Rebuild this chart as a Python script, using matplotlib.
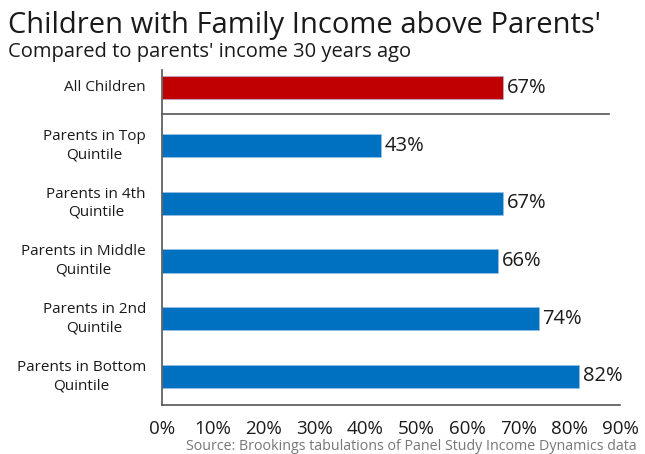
import matplotlib.pyplot as plt

labels = ["All Children", "Parents in Top\nQuintile", "Parents in 4th\nQuintile",
          "Parents in Middle\nQuintile", "Parents in 2nd\nQuintile", "Parents in Bottom\nQuintile"]
values = [0.67, 0.43, 0.67, 0.66, 0.74, 0.82]
value_labels = ["67%", "43%", "67%", "66%", "74%", "82%"]
ticks = [0.0, 0.1, 0.2, 0.3, 0.4, 0.5, 0.6, 0.7, 0.8, 0.9]
tick_labels = ["0%", "10%", "20%", "30%", "40%", "50%", "60%", "70%", "80%", "90%"]

RED = "#C00000"
BLUE = "#0070C0"
TEXT = "#1a1a1a"

plt.rcParams['font.family'] = ['Open Sans', 'DejaVu Sans']

fig = plt.figure(figsize=(6.45, 4.54), dpi=100)
W, H = 645, 454
ax = fig.add_axes([162 / W, 1 - 405 / H, (620 - 162) / W, (405 - 70) / H])

pos = list(range(len(values)))
colors = [RED] + [BLUE] * (len(values) - 1)
ax.barh(pos, values, height=0.4, color=colors, edgecolor="#9fc3e6", linewidth=0.4)
ax.set_ylim(5.495, -0.31)
ax.set_xlim(0, 0.9)

for p, v, t in zip(pos, values, value_labels):
    ax.text(v + 0.007, p, t, va="center", ha="left", fontsize=14.5, color=TEXT)

# category labels, second line centred under the first
ax.set_yticks([])
for p, lab in zip(pos, labels):
    ax.text(-0.035, p, lab, transform=ax.get_yaxis_transform(), ha="right", va="center",
            multialignment="center", fontsize=11, color=TEXT, linespacing=1.3)

# separator between total and quintiles
ax.plot([0, 0.878], [0.455, 0.455], color="#555555", lw=1.2, clip_on=False)

ax.set_xticks(ticks)
ax.set_xticklabels(tick_labels, fontsize=13.5, color=TEXT)
ax.tick_params(length=0)
ax.tick_params(axis="x", pad=11)

for s in ["top", "right"]:
    ax.spines[s].set_visible(False)
for s in ["left", "bottom"]:
    ax.spines[s].set_color("#555555")
    ax.spines[s].set_linewidth(1.2)

fig.text(8 / W, 1 - 25 / H, "Children with Family Income above Parents'",
         fontsize=21, color=TEXT, va="center", ha="left")
fig.text(8 / W, 1 - 52 / H, "Compared to parents' income 30 years ago",
         fontsize=14.5, color=TEXT, va="center", ha="left")
fig.text(637 / W, 1 - 446 / H, "Source: Brookings tabulations of Panel Study Income Dynamics data",
         fontsize=10.3, color="#777777", va="center", ha="right")

fig.savefig("out.png", dpi=100)
